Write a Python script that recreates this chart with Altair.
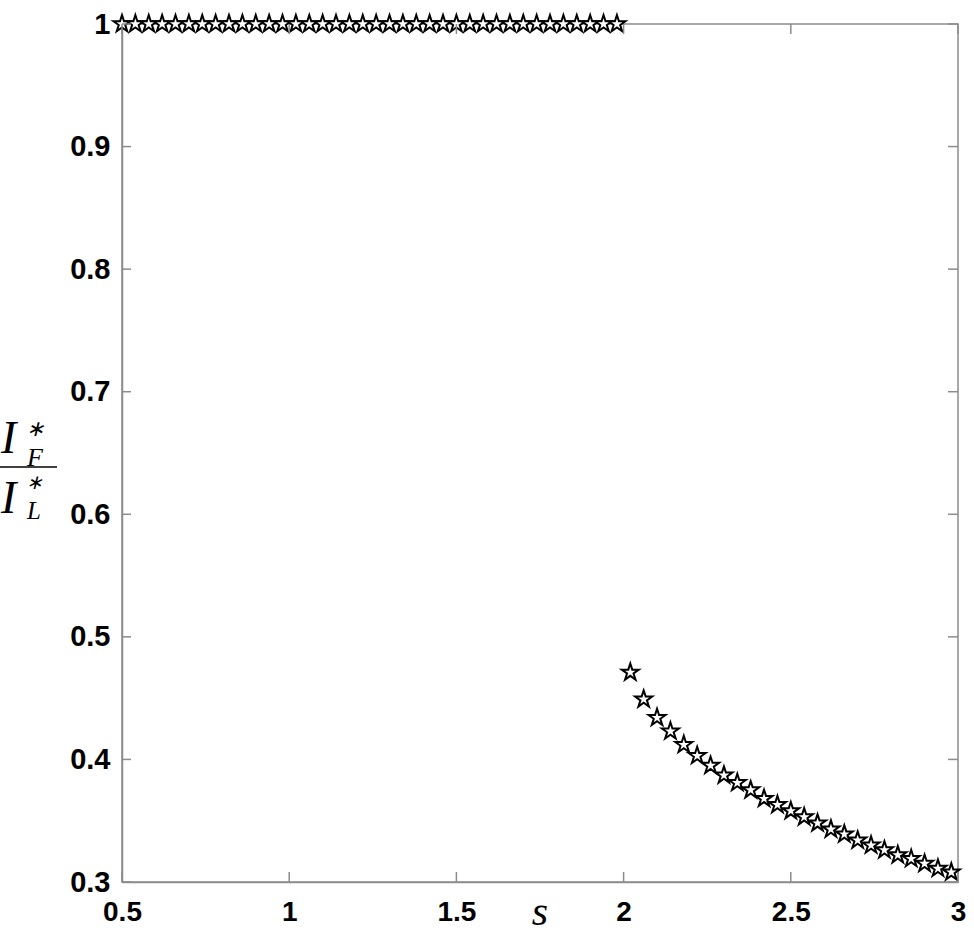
import altair as alt
import pandas as pd

# Upper branch (ratio = 1)
s_top = [0.50, 0.54, 0.58, 0.62, 0.66, 0.70, 0.74, 0.78, 0.82, 0.86,
         0.90, 0.94, 0.98, 1.02, 1.06, 1.10, 1.14, 1.18, 1.22, 1.26,
         1.30, 1.34, 1.38, 1.42, 1.46, 1.50, 1.54, 1.58, 1.62, 1.66,
         1.70, 1.74, 1.78, 1.82, 1.86, 1.90, 1.94, 1.98]
r_top = [1.0] * len(s_top)

# Lower branch
s_low = [2.02, 2.06, 2.10, 2.14, 2.18, 2.22, 2.26, 2.30, 2.34, 2.38,
         2.42, 2.46, 2.50, 2.54, 2.58, 2.62, 2.66, 2.70, 2.74, 2.78,
         2.82, 2.86, 2.90, 2.94, 2.98]
r_low = [0.471, 0.449, 0.434, 0.423, 0.412, 0.403, 0.395, 0.387, 0.381, 0.375,
         0.368, 0.363, 0.358, 0.353, 0.348, 0.343, 0.339, 0.334, 0.330, 0.326,
         0.322, 0.319, 0.315, 0.311, 0.308]

x_ticks = [0.5, 1.0, 1.5, 2.0, 2.5, 3.0]
y_ticks = [0.3, 0.4, 0.5, 0.6, 0.7, 0.8, 0.9, 1.0]

W, H = 836, 858
PL, PT = 122, 24
GRAY = "#8c8c8c"

STAR = ("M0,-1L0.2245,-0.309L0.9511,-0.309L0.3633,0.118L0.5878,0.809"
        "L0,0.382L-0.5878,0.809L-0.3633,0.118L-0.9511,-0.309L-0.2245,-0.309Z")

pts = pd.DataFrame({"sv": s_top + s_low, "rv": r_top + r_low})
xt = pd.DataFrame({"v": x_ticks})
yt = pd.DataFrame({"v": y_ticks})

xs = alt.Scale(domain=[0.5, 3.0], nice=False, zero=False)
ys = alt.Scale(domain=[0.3, 1.0], nice=False, zero=False)

xax = alt.Axis(values=x_ticks, ticks=False, grid=False, title=None, orient="bottom",
               labelFont="Liberation Sans", labelFontWeight="bold", labelFontSize=28,
               labelColor="black", labelPadding=16, labelFlush=False,
               domainColor=GRAY, domainWidth=1.5,
               labelExpr="datum.value == 0.5 ? '0.5' : datum.value == 1.5 ? '1.5' : datum.value == 2.5 ? '2.5' : format(datum.value, 'd')")
yax = alt.Axis(values=y_ticks, ticks=False, grid=False, title=None, orient="left",
               labelFont="Liberation Sans", labelFontWeight="bold", labelFontSize=29,
               labelColor="black", labelPadding=12, labelFlush=False,
               domainColor=GRAY, domainWidth=1.5,
               labelExpr="datum.value == 1 ? '1' : format(datum.value, '.1f')")

points = alt.Chart(pts).mark_point(
    shape=STAR, filled=True, fill="white", stroke="black", strokeWidth=2,
    size=320, opacity=1
).encode(
    x=alt.X("sv:Q", scale=xs, axis=xax),
    y=alt.Y("rv:Q", scale=ys, axis=yax),
)

tick_style = dict(color=GRAY, strokeWidth=1.5)
left_t = alt.Chart(yt).mark_rule(**tick_style).encode(
    y=alt.Y("v:Q", scale=ys, axis=yax), x=alt.value(0), x2=alt.value(9))
right_t = alt.Chart(yt).mark_rule(**tick_style).encode(
    y=alt.Y("v:Q", scale=ys, axis=yax), x=alt.value(W - 10), x2=alt.value(W))
bot_t = alt.Chart(xt).mark_rule(**tick_style).encode(
    x=alt.X("v:Q", scale=xs, axis=xax), y=alt.value(H - 10), y2=alt.value(H))
top_t = alt.Chart(xt).mark_rule(**tick_style).encode(
    x=alt.X("v:Q", scale=xs, axis=xax), y=alt.value(0), y2=alt.value(10))

# x-axis title "s"
s_title = alt.Chart(pd.DataFrame({"t": ["s"]})).mark_text(
    font="Liberation Serif", fontStyle="italic", fontSize=42, align="center",
    baseline="alphabetic", color="black"
).encode(text="t:N", x=alt.value(540 - PL), y=alt.value(925 - PT))

# y-axis title: fraction I*_F / I*_L
frac_t = ["I", "∗", "F", "I", "∗", "L"]
frac_x = [1, 26, 27, 1, 26, 27]
frac_y = [453, 436, 466, 513, 489, 519]
frac_fs = [46, 22, 26, 46, 20, 25]
frac_parts = []
for t, fx, fy, fs in zip(frac_t, frac_x, frac_y, frac_fs):
    frac_parts.append(
        alt.Chart(pd.DataFrame({"t": [t]})).mark_text(
            font="Liberation Serif", fontStyle="italic", fontSize=fs,
            align="left", baseline="alphabetic", color="black"
        ).encode(text="t:N", x=alt.value(fx - PL), y=alt.value(fy - PT))
    )
bar = alt.Chart(pd.DataFrame({"a": [0]})).mark_rule(color="black", strokeWidth=1.6).encode(
    x=alt.value(0 - PL), x2=alt.value(57 - PL), y=alt.value(467 - PT))

chart = alt.layer(
    points, left_t, right_t, bot_t, top_t, s_title, bar, *frac_parts
).properties(
    width=W, height=H,
    autosize=alt.AutoSizeParams(type="none"),
    padding={"left": PL, "top": PT, "right": 974 - PL - W, "bottom": 934 - PT - H},
    background="white",
).configure_view(stroke=GRAY, strokeWidth=1.5)

chart.save("out.html", embed_options={"renderer": "svg", "actions": False})
